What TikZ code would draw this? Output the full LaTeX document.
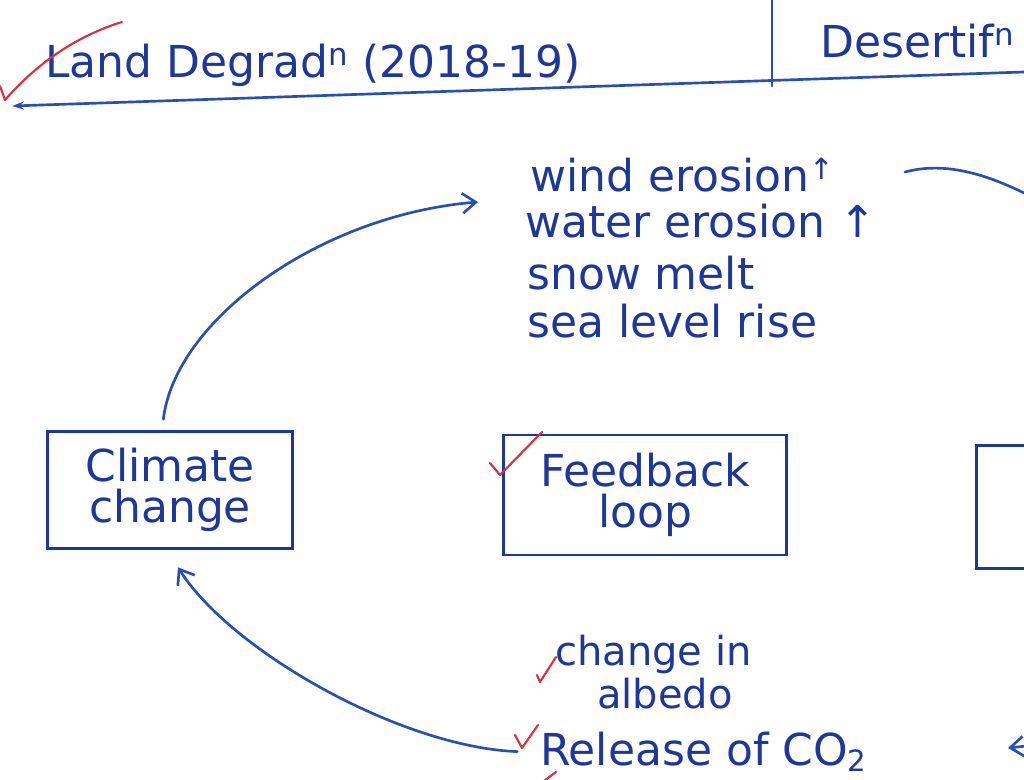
\documentclass[tikz,border=0pt]{standalone}
\usepackage{fontspec}
\setmainfont{DejaVu Sans}
\usetikzlibrary{arrows.meta}
\definecolor{ink}{RGB}{30,55,155}
\definecolor{penblue}{RGB}{40,80,180}
\definecolor{tick}{RGB}{215,50,65}
\begin{document}
\begin{tikzpicture}[x=0.75pt,y=-0.75pt,
  txt/.style={text=ink,font=\fontsize{33}{31}\selectfont,inner sep=0pt},
  small/.style={txt,font=\fontsize{30}{28}\selectfont},
  box/.style={draw=ink,line width=2pt,txt,align=center},
  pen/.style={draw=penblue,line width=2pt,line cap=round},
  arr/.style={pen,-{Straight Barb[length=10pt,width=15pt,line width=2pt]}},
  tickmark/.style={draw=tick,line width=1.6pt,line cap=round,line join=round}]
\useasboundingbox (0,0) rectangle (1024,780);
\clip (0,0) rectangle (1024,780);
\fill[white] (0,0) rectangle (1024,780);

% header
\node[txt,anchor=base west] (land) at (45,78) {Land Degrad\textsuperscript{n} (2018-19)};
\node[txt,anchor=base west] (desert) at (820,58) {Desertif\textsuperscript{n}};
\coordinate (lineR) at (1024,72);
\coordinate (lineL) at (12,106);
\coordinate (sepT) at (772,0);
\coordinate (sepB) at (772,86);
\draw[pen,-{Stealth[length=9pt,width=6pt]}] (lineR) -- (lineL);
\draw[pen] (sepT) -- (sepB);
\draw[tickmark] (0,86) -- (5,100) .. controls (40,60) and (80,35) .. (122,22);

% boxes
\node[box,minimum width=184pt,minimum height=88pt] (climate) at (170,490) {Climate\\change};
\node[box,minimum width=212pt,minimum height=90pt] (feedback) at (645,495) {Feedback\\loop};
\node[draw=ink,line width=2pt,minimum width=230pt,minimum height=92pt] (rightbox) at (1130,507) {};
\draw[tickmark] (490,463) -- (500,475) -- (542,432);

% effects
\node[txt,anchor=base west] (e1) at (530,192) {wind erosion{\fontsize{22}{22}\selectfont\raisebox{9pt}{↑}}};
\node[txt,anchor=base west] (e2) at (525,238) {water erosion ↑};
\node[txt,anchor=base west] (e3) at (527,290) {snow melt};
\node[txt,anchor=base west] (e4) at (527,338) {sea level rise};
\coordinate (e1tip) at (478,202);
\draw[arr] ([xshift=-5pt,yshift=8pt]climate.north) .. controls (175,320) and (320,215) .. (e1tip);

% top right connector
\coordinate (trA) at (905,172);
\coordinate (trB) at (1034,198);
\draw[pen] (trA) .. controls (950,160) and (995,178) .. (trB);

% bottom
\node[small,anchor=base west] (albedo1) at (555,665) {change in};
\node[small,anchor=base west] (albedo2) at (597,708) {albedo};
\node[txt,anchor=base west] (release) at (540,765) {Release of CO{\fontsize{22}{22}\selectfont\raisebox{-5pt}{2}}};
\draw[tickmark] (537,675) -- (540,682) -- (556,657);
\draw[tickmark] (515,735) -- (522,748) -- (538,725);
\draw[tickmark] (540,784) -- (556,772);
\draw[arr] ([xshift=-17pt]release.west) .. controls (400,747) and (230,650) .. ([xshift=6pt,yshift=-13pt]climate.south);

% right edge arrow
\coordinate (brA) at (1045,744);
\coordinate (brB) at (1008,748);
\draw[arr] (brA) -- (brB);
\end{tikzpicture}
\end{document}
